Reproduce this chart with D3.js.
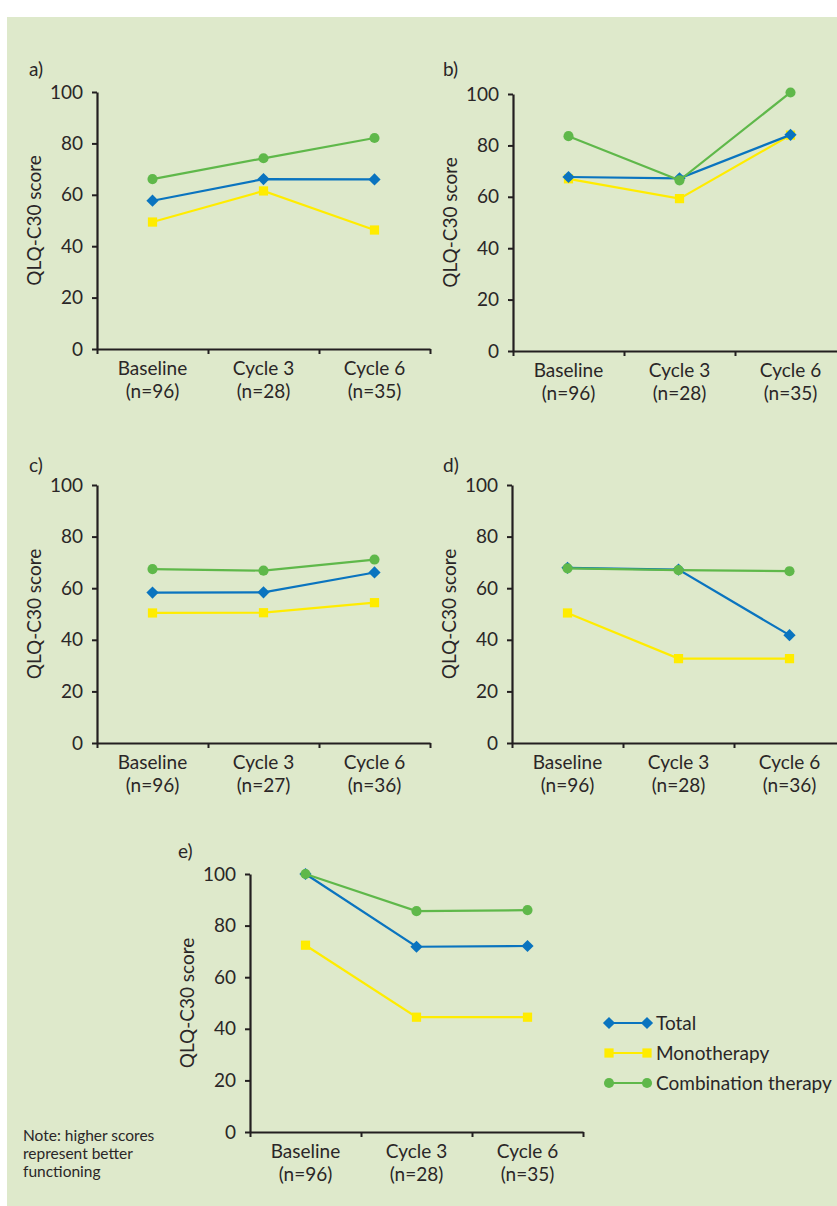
<!DOCTYPE html>
<html>
<head>
<meta charset="utf-8">
<script src="https://cdn.jsdelivr.net/npm/d3@7"></script>
<style>
  body { margin: 0; background: #fff; }
  svg text { font-family: Lato, "Open Sans", sans-serif; fill: #2a2627; }
</style>
</head>
<body>
<svg id="chart" width="837" height="1206"></svg>
<script>
// data
const timepoints = ["Baseline", "Cycle 3", "Cycle 6"];
const panelLabels = ["a)", "b)", "c)", "d)", "e)"];
const sampleSizes = [
  ["(n=96)", "(n=28)", "(n=35)"],
  ["(n=96)", "(n=28)", "(n=35)"],
  ["(n=96)", "(n=27)", "(n=36)"],
  ["(n=96)", "(n=28)", "(n=36)"],
  ["(n=96)", "(n=28)", "(n=35)"]
];
const totalScores = [
  [57.7, 66.1, 66.0],
  [67.7, 67.2, 84.1],
  [58.3, 58.4, 66.1],
  [67.9, 67.2, 41.8],
  [100, 71.8, 72.1]
];
const monoScores = [
  [49.4, 61.5, 46.3],
  [67.0, 59.3, 84.0],
  [50.4, 50.5, 54.4],
  [50.4, 32.7, 32.7],
  [72.4, 44.5, 44.5]
];
const comboScores = [
  [66.1, 74.2, 82.1],
  [83.6, 66.4, 100.6],
  [67.4, 66.8, 71.1],
  [67.7, 67.0, 66.6],
  [100, 85.6, 86.0]
];
const seriesNames = ["Total", "Monotherapy", "Combination therapy"];
const yTicks = [0, 20, 40, 60, 80, 100];
const noteLines = ["Note: higher scores", "represent better", "functioning"];

const colors = { "Total": "#0a74bf", "Monotherapy": "#ffec00", "Combination therapy": "#5fb84a" };
const ink = "#231f20";
const fs = "19px";

// panel placement (axis origin, plot height, band width)
const layout = [
  { x: 97,  top: 92,  h: 257, lx: 29,  ly: 76 },
  { x: 513, top: 94,  h: 257, lx: 443, ly: 76 },
  { x: 97,  top: 485, h: 258, lx: 29,  ly: 472 },
  { x: 512, top: 485, h: 258, lx: 443, ly: 472 },
  { x: 250, top: 874, h: 258, lx: 178, ly: 858 }
];
const bandW = 111;

const svg = d3.select("#chart");
svg.append("rect").attr("x", 7).attr("y", 17).attr("width", 830).attr("height", 1189)
  .attr("fill", "#dee9cb");

const symbolFor = {
  "Total": d3.symbol().type(d3.symbolDiamond2).size(95),
  "Monotherapy": d3.symbol().type(d3.symbolSquare).size(85),
  "Combination therapy": d3.symbol().type(d3.symbolCircle).size(80)
};

function drawPanel(i) {
  const L = layout[i];
  const g = svg.append("g").attr("transform", `translate(${L.x},${L.top})`);

  const y = d3.scaleLinear().domain([0, 100]).range([L.h, 0]);
  const x = d3.scaleBand().domain(timepoints).range([0, bandW * 3]);
  const xEdges = d3.scaleLinear().domain([0, 3]).range([0, bandW * 3]);

  // y axis
  const ya = g.append("g")
    .call(d3.axisLeft(y).tickValues(yTicks).tickSize(5).tickSizeOuter(0).tickPadding(9));
  ya.selectAll("text").style("font-size", fs);

  // x axis, ticks on the category edges
  const xa = g.append("g").attr("transform", `translate(0,${L.h})`)
    .call(d3.axisBottom(xEdges).tickValues([0, 1, 2, 3]).tickFormat("").tickSize(5).tickSizeOuter(0));

  [ya, xa].forEach(a => {
    a.select(".domain").attr("stroke", ink).attr("stroke-width", 2.2);
    a.selectAll(".tick line").attr("stroke", ink).attr("stroke-width", 2);
    a.selectAll("text").attr("fill", ink);
  });

  // category labels
  const lab = g.append("g").selectAll("text").data(timepoints).join("text")
    .attr("x", d => x(d) + x.bandwidth() / 2)
    .attr("y", L.h + 26)
    .attr("text-anchor", "middle")
    .style("font-size", fs);
  lab.append("tspan").attr("x", d => x(d) + x.bandwidth() / 2).text(d => d);
  lab.append("tspan").attr("x", d => x(d) + x.bandwidth() / 2).attr("dy", 23)
    .text((d, j) => sampleSizes[i][j]);

  // axis title
  g.append("text")
    .attr("transform", `translate(-56,${L.h / 2}) rotate(-90)`)
    .attr("text-anchor", "middle")
    .style("font-size", fs)
    .text("QLQ-C30 score");

  svg.append("text").attr("x", L.lx).attr("y", L.ly)
    .style("font-size", fs).text(panelLabels[i]);

  const series = [
    { name: "Monotherapy", values: monoScores[i] },
    { name: "Total", values: totalScores[i] },
    { name: "Combination therapy", values: comboScores[i] }
  ];
  const line = d3.line()
    .x((d, j) => x(timepoints[j]) + x.bandwidth() / 2)
    .y(d => y(d));

  series.forEach(s => {
    g.append("path").datum(s.values)
      .attr("fill", "none")
      .attr("stroke", colors[s.name])
      .attr("stroke-width", 2.2)
      .attr("d", line);
    g.selectAll(null).data(s.values).join("path")
      .attr("transform", (d, j) => `translate(${x(timepoints[j]) + x.bandwidth() / 2},${y(d)})`)
      .attr("d", symbolFor[s.name])
      .attr("fill", colors[s.name]);
  });
}

d3.range(5).forEach(drawPanel);

// legend
const legend = svg.append("g").attr("transform", "translate(609,1023)");
seriesNames.forEach((name, k) => {
  const row = legend.append("g").attr("transform", `translate(0,${k * 30})`);
  row.append("line").attr("x1", 0).attr("x2", 38).attr("stroke", colors[name]).attr("stroke-width", 2.2);
  [0, 38].forEach(px => row.append("path")
    .attr("transform", `translate(${px},0)`)
    .attr("d", symbolFor[name]).attr("fill", colors[name]));
  row.append("text").attr("x", 47).attr("y", 7).style("font-size", fs).text(name);
});

// note
svg.append("g").selectAll("text").data(noteLines).join("text")
  .attr("x", 23).attr("y", (d, k) => 1141 + k * 18)
  .style("font-size", "15.5px")
  .text(d => d);
</script>
</body>
</html>
